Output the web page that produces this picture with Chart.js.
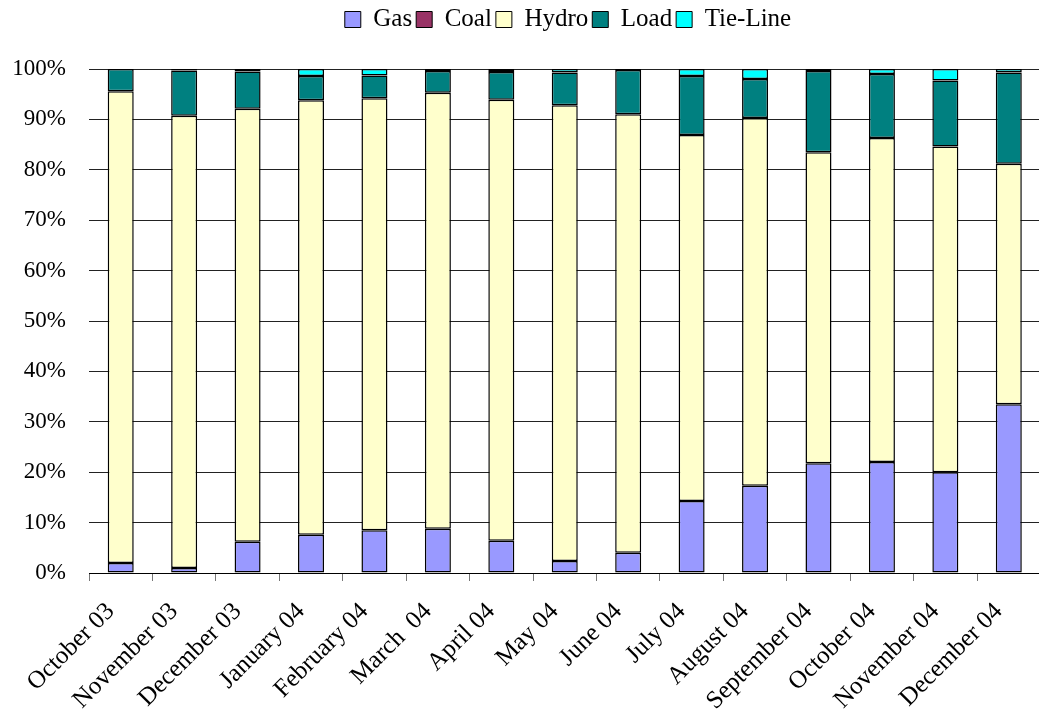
<!DOCTYPE html>
<html lang="en">
<head>
    <meta charset="UTF-8">
    <title>Generation mix</title>
    <style>
        html, body { margin: 0; padding: 0; overflow: hidden; background: #fff; }
        #chart-container { width: 1046px; height: 717px; }
    </style>
</head>
<body>
    <div id="chart-container">
        <canvas id="mix-chart" width="1046" height="717"></canvas>
    </div>

    <script src="https://cdn.jsdelivr.net/npm/chart.js"></script>

    <script>
        // місяці
        const months = ['October 03', 'November 03', 'December 03', 'January 04', 'February 04', 'March  04',
            'April 04', 'May 04', 'June 04', 'July 04', 'August 04', 'September 04', 'October 04',
            'November 04', 'December 04'];

        // частки, %
        const gas = [2.0, 1.0, 6.2, 7.6, 8.5, 8.8, 6.4, 2.4, 4.0, 14.3, 17.3, 21.8, 22.0, 20.0, 33.5];
        const coal = [0, 0, 0, 0, 0, 0, 0, 0, 0, 0, 0, 0, 0, 0, 0];
        const hydro = [93.6, 89.7, 85.9, 86.2, 85.7, 86.5, 87.5, 90.4, 87.0, 72.6, 73.0, 61.7, 64.3, 64.6, 47.7];
        const load = [4.4, 9.0, 7.4, 4.8, 4.5, 4.3, 5.5, 6.5, 8.8, 11.7, 7.7, 16.1, 12.7, 13.1, 18.1];
        const tieLine = [0, 0.3, 0.5, 1.4, 1.3, 0.4, 0.6, 0.7, 0.2, 1.4, 2.0, 0.4, 1.0, 2.3, 0.7];

        const yTicks = [0, 10, 20, 30, 40, 50, 60, 70, 80, 90, 100];

        const serif = "'Liberation Serif', 'Times New Roman', serif";

        function makeSet(label, data, color) {
            return {
                label: label,
                data: data,
                backgroundColor: color,
                borderColor: '#000',
                // нульові сегменти без рамки
                borderWidth: c => (c.raw === 0 ? 0 : 1.5),
                borderSkipped: false,
                barPercentage: 0.41,
                categoryPercentage: 1.0
            };
        }

        // місце під легендою + зсув легенди вправо
        const legendTweak = {
            id: 'legendTweak',
            beforeInit(chart) {
                const origFit = chart.legend.fit;
                chart.legend.fit = function () {
                    origFit.bind(chart.legend)();
                    this.height += 27;
                };
            },
            afterLayout(chart) {
                chart.legend.left += 45;
                chart.legend.right += 45;
            }
        };

        const ctx = document.getElementById('mix-chart').getContext('2d');
        const chart = new Chart(ctx, {
            type: 'bar',
            data: {
                labels: months,
                datasets: [
                    makeSet('Gas', gas, '#9999FF'),
                    makeSet('Coal', coal, '#993366'),
                    makeSet('Hydro', hydro, '#FFFFCC'),
                    makeSet('Load', load, '#008080'),
                    makeSet('Tie-Line', tieLine, '#00FFFF')
                ]
            },
            options: {
                responsive: false,
                animation: false,
                devicePixelRatio: 1,
                layout: { padding: { top: 3 } },
                plugins: {
                    legend: {
                        position: 'top',
                        labels: {
                            boxWidth: 16,
                            boxHeight: 16,
                            padding: 4,
                            color: '#000',
                            font: { family: serif, size: 25 },
                            generateLabels: function (chart) {
                                return Chart.defaults.plugins.legend.labels.generateLabels(chart)
                                    .map(l => Object.assign(l, { lineWidth: 1, strokeStyle: '#000' }));
                            }
                        }
                    },
                    tooltip: { enabled: false }
                },
                scales: {
                    x: {
                        stacked: true,
                        grid: {
                            offset: true,
                            drawOnChartArea: false,
                            drawTicks: true,
                            tickLength: 8,
                            color: '#777'
                        },
                        border: { display: true, color: '#000', width: 1 },
                        ticks: {
                            color: '#000',
                            font: { family: serif, size: 25 },
                            maxRotation: 45,
                            minRotation: 45,
                            autoSkip: false,
                            padding: 16,
                            labelOffset: -10
                        },
                        afterFit: function (scale) { scale.height = 144; }
                    },
                    y: {
                        stacked: true,
                        min: 0,
                        max: 100,
                        afterBuildTicks: function (scale) {
                            scale.ticks = yTicks.map(v => ({ value: v }));
                        },
                        grid: { color: '#222', drawTicks: false },
                        border: { display: false },
                        ticks: {
                            color: '#000',
                            padding: 23,
                            font: { family: serif, size: 23 },
                            callback: v => v + '%'
                        },
                        afterFit: function (scale) { scale.width = 89; }
                    }
                }
            },
            plugins: [legendTweak]
        });
        console.log(chart.chartArea);
    </script>
</body>
</html>
